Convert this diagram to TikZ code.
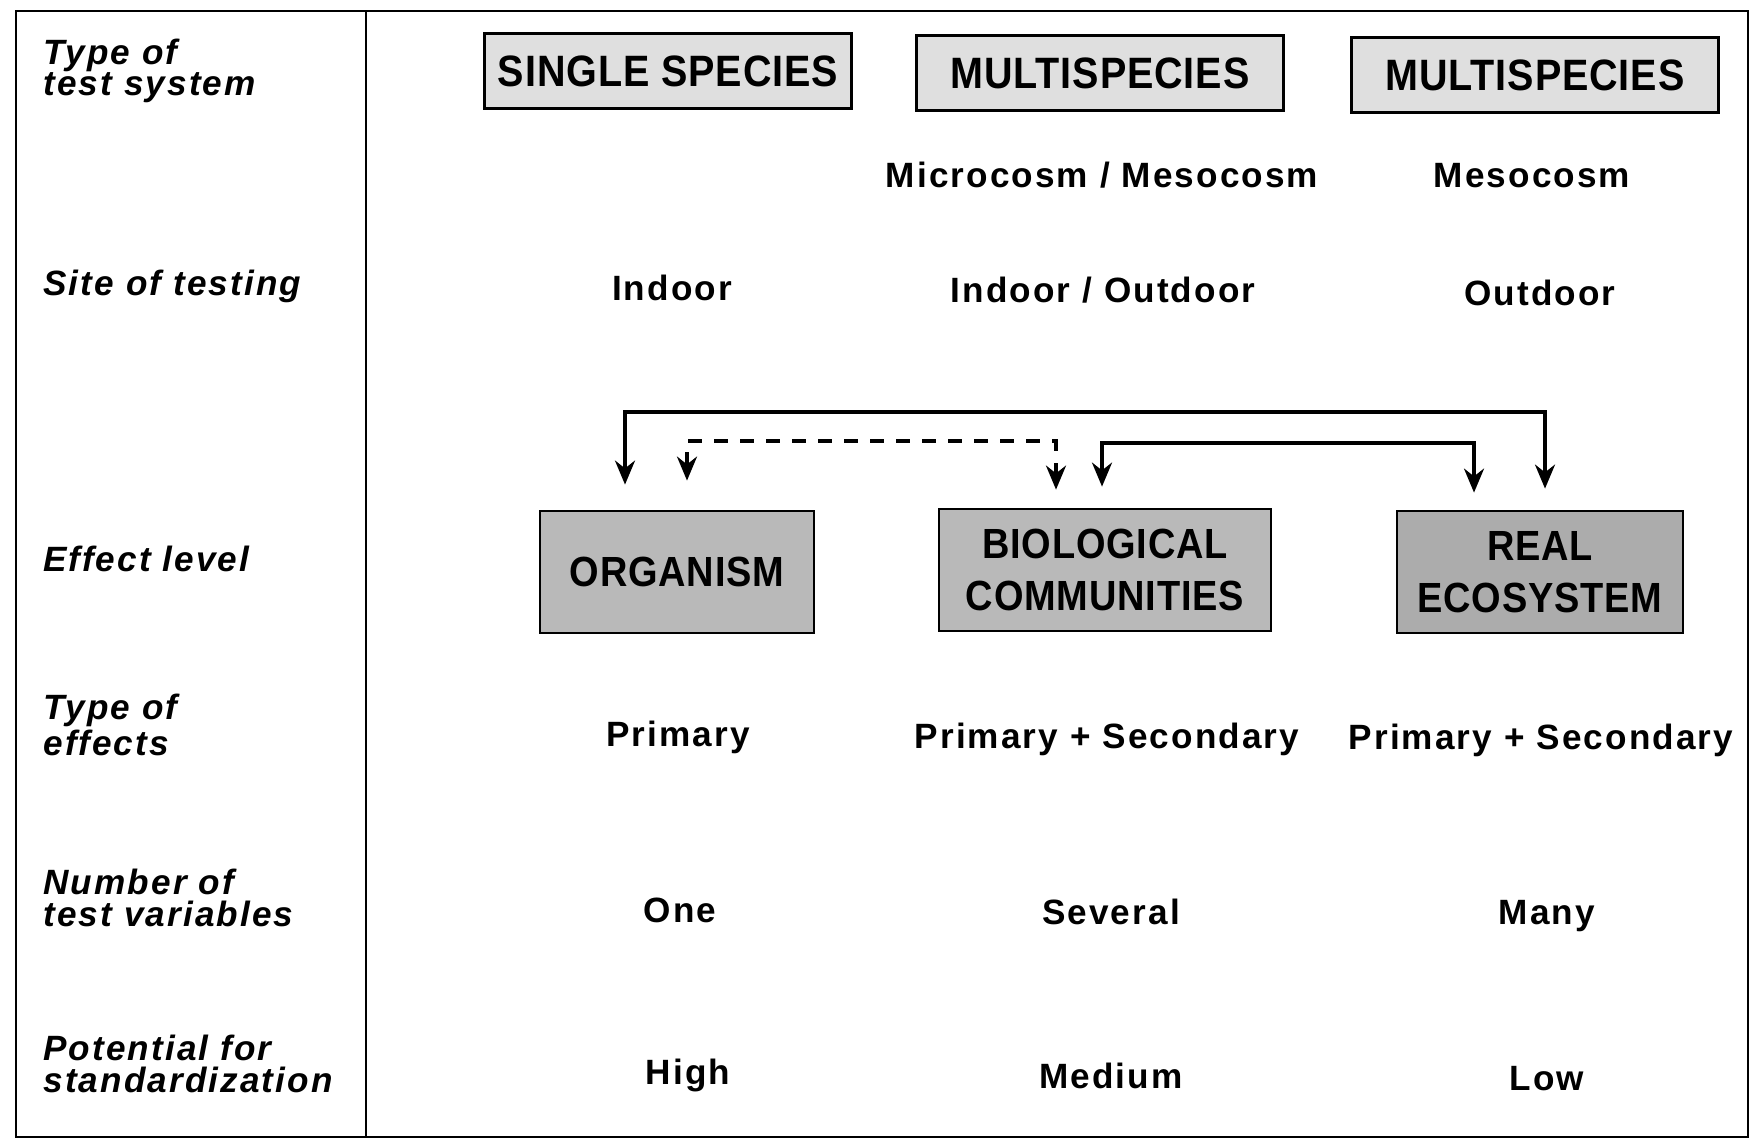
\documentclass[tikz,border=0pt]{standalone}
\usepackage{fontspec}
\usetikzlibrary{arrows.meta}
\setmainfont{Liberation Sans}[LetterSpace=6]
\newfontfamily\boxfont{Liberation Sans}[FakeStretch=0.9, LetterSpace=2]

\begin{document}
\begin{tikzpicture}[x=0.1mm, y=-0.1mm, >={Stealth[length=2.4mm, width=2mm]}, thick,
    lbl/.style={anchor=west, inner sep=0, align=left, font=\fontsize{10}{9}\selectfont\bfseries\itshape},
    txt/.style={inner sep=0, font=\fontsize{10}{12}\selectfont\bfseries},
    sys/.style={draw, fill=gray!25, inner sep=0, minimum width=36.7mm, minimum height=7.5mm,
        font=\boxfont\fontsize{12.5}{14}\selectfont\bfseries},
    lvl/.style={draw, fill=gray!55, inner sep=0, align=center, minimum height=12.2mm,
        font=\boxfont\fontsize{12}{14.8}\selectfont\bfseries},
    link/.style={<->, line width=1pt}]
    \useasboundingbox (0,0) rectangle (1751,1140);
    \draw (16,11) rectangle (1748,1137);
    \draw (366,11) -- (366,1137);

    \node[lbl] (lsys) at (42,71) {Type of\\test system};
    \node[lbl] (lsite) at (42,286) {Site of testing};
    \node[lbl] (llvl) at (42,559) {Effect level};
    \node[lbl] (leff) at (42,725) {Type of\\effects};
    \node[lbl] (lvar) at (42,898) {Number of\\test variables};
    \node[lbl] (lstd) at (42,1064) {Potential for\\standardization};

    \node[sys] (s1) at (668,71) {SINGLE SPECIES};
    \node[sys] (s2) at (1100,73) {MULTISPECIES};
    \node[sys] (s3) at (1535,75) {MULTISPECIES};

    \node[txt] (m2) at (1102,175) {Microcosm / Mesocosm};
    \node[txt] (m3) at (1532,176) {Mesocosm};

    \node[txt] (t1) at (672,288) {Indoor};
    \node[txt] (t2) at (1103,290) {Indoor / Outdoor};
    \node[txt] (t3) at (1540,293) {Outdoor};

    \node[lvl, minimum width=27.4mm] (org) at (677,572) {ORGANISM};
    \node[lvl, minimum width=33.2mm] (bio) at (1105,570) {BIOLOGICAL\\COMMUNITIES};
    \node[lvl, minimum width=28.6mm, fill=gray!65] (eco) at (1540,572) {REAL\\ECOSYSTEM};

    \coordinate (top1) at (1000,412);
    \coordinate (top2) at (900,441);
    \coordinate (top3) at (1300,443);
    \draw[link, shorten <=2.5mm, shorten >=2.1mm] ([xshift=-5.2mm]org.north) |- (top1) -| ([xshift=0.5mm]eco.north);
    \draw[link, dash pattern=on 1.4mm off 1.2mm, shorten <=2.9mm, shorten >=1.8mm]
        ([xshift=1mm]org.north) |- (top2) -| ([xshift=-4.9mm]bio.north);
    \draw[link, shorten <=2.1mm, shorten >=1.7mm] ([xshift=-0.3mm]bio.north) |- (top3) -| ([xshift=-6.6mm]eco.north);

    \node[txt] (e1) at (678,737) {Primary};
    \node[txt] (e2) at (1107,739) {Primary + Secondary};
    \node[txt] (e3) at (1541,740) {Primary + Secondary};

    \node[txt] (v1) at (680,910) {One};
    \node[txt] (v2) at (1111,912) {Several};
    \node[txt] (v3) at (1547,916) {Many};

    \node[txt] (p1) at (688,1075) {High};
    \node[txt] (p2) at (1111,1076) {Medium};
    \node[txt] (p3) at (1547,1079) {Low};
\end{tikzpicture}
\end{document}
